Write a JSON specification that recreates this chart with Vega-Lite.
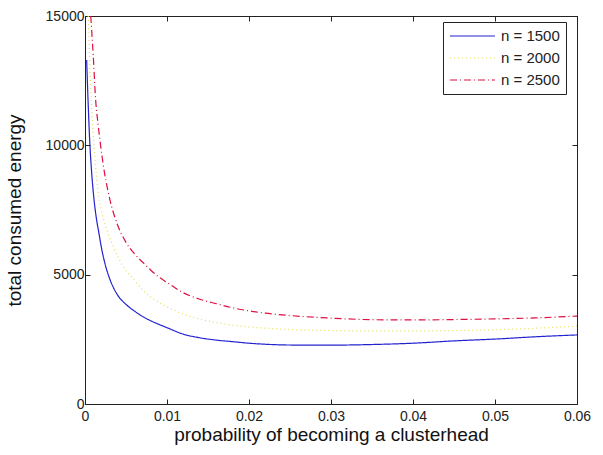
{
  "$schema": "https://vega.github.io/schema/vega-lite/v6.json",
  "autosize": {"type": "none"},
  "width": 492,
  "height": 388,
  "padding": {"left": 85, "top": 16, "right": 26, "bottom": 51},
  "background": "white",
  "config": {
    "font": "Liberation Sans",
    "view": {"stroke": "#222", "strokeWidth": 1},
    "axis": {"grid": false, "domainColor": "#222", "tickColor": "#222", "tickSize": -5, "labelFlush": false, "labelColor": "#222", "labelFontSize": 14, "titleFontSize": 19, "titleFontWeight": "normal", "titleColor": "#111", "labelFont": "Liberation Sans", "titleFont": "Liberation Sans"}
  },
  "data": {"values": [
    {"n": "n = 1500", "p": 0.0002, "E": 13300},
    {"n": "n = 1500", "p": 0.0004, "E": 11500},
    {"n": "n = 1500", "p": 0.0006, "E": 10000},
    {"n": "n = 1500", "p": 0.0008, "E": 9000},
    {"n": "n = 1500", "p": 0.0011, "E": 7900},
    {"n": "n = 1500", "p": 0.0014, "E": 7150},
    {"n": "n = 1500", "p": 0.0017, "E": 6600},
    {"n": "n = 1500", "p": 0.002, "E": 6050},
    {"n": "n = 1500", "p": 0.0025, "E": 5350},
    {"n": "n = 1500", "p": 0.003, "E": 4850},
    {"n": "n = 1500", "p": 0.0035, "E": 4480},
    {"n": "n = 1500", "p": 0.004, "E": 4200},
    {"n": "n = 1500", "p": 0.005, "E": 3850},
    {"n": "n = 1500", "p": 0.006, "E": 3600},
    {"n": "n = 1500", "p": 0.007, "E": 3390},
    {"n": "n = 1500", "p": 0.008, "E": 3220},
    {"n": "n = 1500", "p": 0.009, "E": 3080},
    {"n": "n = 1500", "p": 0.01, "E": 2950},
    {"n": "n = 1500", "p": 0.012, "E": 2700},
    {"n": "n = 1500", "p": 0.014, "E": 2560},
    {"n": "n = 1500", "p": 0.016, "E": 2470},
    {"n": "n = 1500", "p": 0.018, "E": 2410},
    {"n": "n = 1500", "p": 0.02, "E": 2350},
    {"n": "n = 1500", "p": 0.022, "E": 2310},
    {"n": "n = 1500", "p": 0.025, "E": 2280},
    {"n": "n = 1500", "p": 0.03, "E": 2275},
    {"n": "n = 1500", "p": 0.035, "E": 2300},
    {"n": "n = 1500", "p": 0.04, "E": 2350},
    {"n": "n = 1500", "p": 0.045, "E": 2440},
    {"n": "n = 1500", "p": 0.05, "E": 2510},
    {"n": "n = 1500", "p": 0.055, "E": 2600},
    {"n": "n = 1500", "p": 0.06, "E": 2670},
    {"n": "n = 2000", "p": 0.0004, "E": 15000},
    {"n": "n = 2000", "p": 0.0006, "E": 13000},
    {"n": "n = 2000", "p": 0.0008, "E": 11500},
    {"n": "n = 2000", "p": 0.0011, "E": 10000},
    {"n": "n = 2000", "p": 0.0014, "E": 8800},
    {"n": "n = 2000", "p": 0.0017, "E": 7950},
    {"n": "n = 2000", "p": 0.0021, "E": 7350},
    {"n": "n = 2000", "p": 0.0028, "E": 6600},
    {"n": "n = 2000", "p": 0.0035, "E": 6050},
    {"n": "n = 2000", "p": 0.0045, "E": 5400},
    {"n": "n = 2000", "p": 0.006, "E": 4790},
    {"n": "n = 2000", "p": 0.007, "E": 4420},
    {"n": "n = 2000", "p": 0.008, "E": 4140},
    {"n": "n = 2000", "p": 0.009, "E": 3930},
    {"n": "n = 2000", "p": 0.01, "E": 3760},
    {"n": "n = 2000", "p": 0.012, "E": 3480},
    {"n": "n = 2000", "p": 0.014, "E": 3280},
    {"n": "n = 2000", "p": 0.016, "E": 3150},
    {"n": "n = 2000", "p": 0.018, "E": 3050},
    {"n": "n = 2000", "p": 0.02, "E": 2980},
    {"n": "n = 2000", "p": 0.025, "E": 2880},
    {"n": "n = 2000", "p": 0.03, "E": 2840},
    {"n": "n = 2000", "p": 0.035, "E": 2825},
    {"n": "n = 2000", "p": 0.04, "E": 2825},
    {"n": "n = 2000", "p": 0.045, "E": 2840},
    {"n": "n = 2000", "p": 0.05, "E": 2870},
    {"n": "n = 2000", "p": 0.055, "E": 2930},
    {"n": "n = 2000", "p": 0.06, "E": 3010},
    {"n": "n = 2500", "p": 0.0007, "E": 15000},
    {"n": "n = 2500", "p": 0.001, "E": 13500},
    {"n": "n = 2500", "p": 0.0013, "E": 11750},
    {"n": "n = 2500", "p": 0.0016, "E": 10800},
    {"n": "n = 2500", "p": 0.0019, "E": 10000},
    {"n": "n = 2500", "p": 0.0024, "E": 8900},
    {"n": "n = 2500", "p": 0.003, "E": 7950},
    {"n": "n = 2500", "p": 0.004, "E": 6900},
    {"n": "n = 2500", "p": 0.005, "E": 6250},
    {"n": "n = 2500", "p": 0.006, "E": 5820},
    {"n": "n = 2500", "p": 0.007, "E": 5490},
    {"n": "n = 2500", "p": 0.008, "E": 5180},
    {"n": "n = 2500", "p": 0.009, "E": 4910},
    {"n": "n = 2500", "p": 0.01, "E": 4700},
    {"n": "n = 2500", "p": 0.012, "E": 4300},
    {"n": "n = 2500", "p": 0.014, "E": 4050},
    {"n": "n = 2500", "p": 0.016, "E": 3880},
    {"n": "n = 2500", "p": 0.018, "E": 3720},
    {"n": "n = 2500", "p": 0.02, "E": 3600},
    {"n": "n = 2500", "p": 0.022, "E": 3510},
    {"n": "n = 2500", "p": 0.025, "E": 3420},
    {"n": "n = 2500", "p": 0.03, "E": 3320},
    {"n": "n = 2500", "p": 0.035, "E": 3260},
    {"n": "n = 2500", "p": 0.04, "E": 3250},
    {"n": "n = 2500", "p": 0.045, "E": 3265},
    {"n": "n = 2500", "p": 0.05, "E": 3290},
    {"n": "n = 2500", "p": 0.055, "E": 3330},
    {"n": "n = 2500", "p": 0.06, "E": 3400}
  ]},
  "layer": [
    {
      "mark": {"type": "line", "strokeWidth": 1.2, "clip": true, "interpolate": "monotone"},
      "encoding": {
        "x": {"field": "p", "type": "quantitative", "scale": {"domain": [0, 0.06], "nice": false, "zero": false},
              "axis": {"values": [0, 0.01, 0.02, 0.03, 0.04, 0.05, 0.06], "format": ".2~f", "title": "probability of becoming a clusterhead", "labelPadding": 10, "titlePadding": 2}},
        "y": {"field": "E", "type": "quantitative", "scale": {"domain": [0, 15000], "nice": false},
              "axis": {"values": [0, 5000, 10000, 15000], "format": "d", "title": "total consumed energy", "labelPadding": 6, "titlePadding": 21}},
        "color": {"field": "n", "type": "nominal",
                  "scale": {"domain": ["n = 1500", "n = 2000", "n = 2500"], "range": ["#2222d0", "#e6dd55", "#dd1040"]},
                  "legend": {"orient": "none", "legendX": 358, "legendY": 6, "title": null, "strokeColor": "#222", "fillColor": "white", "padding": 6, "symbolType": "stroke", "symbolSize": 2025, "symbolStrokeWidth": 1.2, "clipHeight": 16, "rowPadding": 6, "labelFontSize": 15, "labelColor": "#222", "labelOffset": 5, "labelFont": "Liberation Sans"}},
        "strokeDash": {"field": "n", "type": "nominal",
                  "scale": {"domain": ["n = 1500", "n = 2000", "n = 2500"], "range": [[1, 0], [1, 3], [7, 3, 1, 3]]},
                  "legend": null}
      }
    },
    {
      "mark": {"type": "line", "opacity": 0},
      "encoding": {
        "x": {"field": "p", "type": "quantitative", "scale": {"domain": [0, 0.06], "nice": false, "zero": false},
              "axis": {"orient": "top", "values": [0, 0.01, 0.02, 0.03, 0.04, 0.05, 0.06], "labels": false, "title": null}},
        "y": {"field": "E", "type": "quantitative", "scale": {"domain": [0, 15000], "nice": false},
              "axis": {"orient": "right", "values": [0, 5000, 10000, 15000], "labels": false, "title": null}},
        "detail": {"field": "n"}
      }
    }
  ],
  "resolve": {"axis": {"x": "independent", "y": "independent"}}
}
